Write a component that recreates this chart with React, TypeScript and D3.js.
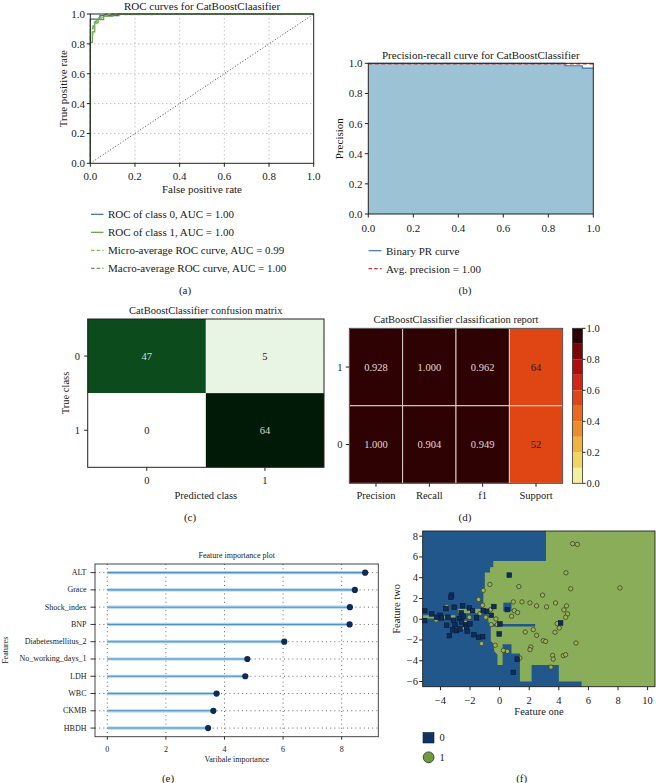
import React from "react";
import * as d3 from "d3";

const FONT = '"Liberation Serif", "Times New Roman", serif';

// ---------- (a) ROC curves ----------
const rocTicks = [0, 0.2, 0.4, 0.6, 0.8, 1.0];
const rocClass0: [number, number][] = [[0, 0], [0, 0.966], [0.043, 0.966], [0.043, 0.989], [0.128, 0.989], [0.128, 1], [1, 1]];
const rocClass1: [number, number][] = [[0, 0], [0, 0.81], [0.009, 0.81], [0.009, 0.88], [0.02, 0.88], [0.02, 0.94], [0.035, 0.94], [0.035, 0.962], [0.06, 0.962], [0.06, 0.985], [0.1, 0.985], [0.1, 1], [1, 1]];
const rocMicro: [number, number][] = [[0, 0], [0, 0.86], [0.012, 0.86], [0.012, 0.91], [0.025, 0.93], [0.03, 0.955], [0.05, 0.97], [0.06, 0.99], [0.09, 0.995], [0.28, 0.996], [0.28, 1], [1, 1]];
const rocMacro: [number, number][] = [[0, 0], [0, 0.9], [0.01, 0.9], [0.015, 0.94], [0.03, 0.96], [0.045, 0.985], [0.07, 1], [1, 1]];
const rocLegendLabels = [
  "ROC of class 0, AUC = 1.00",
  "ROC of class 1, AUC = 1.00",
  "Micro-average ROC curve, AUC = 0.99",
  "Macro-average ROC curve, AUC = 1.00",
];

// ---------- (b) Precision-recall ----------
const prTicks = [0, 0.2, 0.4, 0.6, 0.8, 1.0];
const prRecall = [0, 0.874, 0.874, 0.951, 0.951, 1.0];
const prPrecision = [1.0, 1.0, 0.984, 0.984, 0.968, 0.968];
const avgPrecision = 0.996;
const prLegendLabels = ["Binary PR curve", "Avg. precision = 1.00"];

// ---------- (c) Confusion matrix ----------
const cmClasses = ["0", "1"];
const cmValues = [
  [47, 5],
  [0, 64],
];

// ---------- (d) Classification report ----------
const reportClasses = ["1", "0"];
const reportMetrics = ["Precision", "Recall", "f1", "Support"];
const reportScores = [
  [0.928, 1.0, 0.962],
  [1.0, 0.904, 0.949],
];
const reportSupport = [64, 52];
const supportColorValue = 0.55;
const colorbarTicks = [0, 0.2, 0.4, 0.6, 0.8, 1.0];
const colorbarBins = ["#f3f0a2", "#f2d463", "#f0b33e", "#ee8c2b", "#e9691d", "#e04613", "#d62512", "#b00d0c", "#7c0606", "#2e0202"];

// ---------- (e) Feature importance ----------
const features = ["ALT", "Grace", "Shock_index", "BNP", "Diabetesmellitus_2", "No_working_days_1", "LDH", "WBC", "CKMB", "HBDH"];
const importance = [8.8, 8.45, 8.28, 8.27, 6.04, 4.78, 4.71, 3.73, 3.62, 3.44];
const importanceTicks = [0, 2, 4, 6, 8];

// ---------- (f) Decision regions ----------
const featXTicks = [-4, -2, 0, 2, 4, 6, 8, 10];
const featYTicks = [-6, -4, -2, 0, 2, 4, 6, 8];
const blueRegion: [number, number][] = [
  [-5.2, 8.5], [3.13, 8.5], [3.13, 5.6], [-0.43, 5.6], [-0.43, 5.0], [-0.65, 5.0], [-0.65, 4.5], [-1.0, 4.5],
  [-1.0, 3.0], [-1.1, 3.0], [-1.1, 1.0], [-0.8, 0.45], [-0.75, -0.3], [-0.6, -0.5], [-0.6, -2.1], [-0.45, -2.3],
  [-0.35, -3.1], [-0.15, -3.4], [-0.15, -4.4], [0.2, -4.4], [0.2, -2.4], [0.8, -2.4], [0.8, -3.3], [1.37, -3.3],
  [1.37, -6.0], [2.16, -6.0], [2.16, -4.4], [4.0, -4.4], [4.0, -6.0], [5.54, -6.0], [5.54, -6.5], [-5.2, -6.5],
];
const greenPatches: [number, number][][] = [
  [[-2.8, 1.0], [-1.1, 1.0], [-1.1, 0.58], [-2.8, 0.58]],
  [[-5.2, 0.38], [-3.0, 0.38], [-3.0, 0.08], [-5.2, 0.08]],
];
const bluePatches: [number, number][][] = [
  [[-0.6, -0.45], [2.4, -0.45], [2.4, -0.7], [-0.6, -0.7]],
  [[0.25, 1.6], [0.8, 1.6], [0.8, 0.75], [0.25, 0.75]],
];
const class1Points: [number, number][] = [
  [4.93, 7.28], [5.25, 7.21], [4.48, 4.47], [4.8, 2.93], [8.13, 3.02], [1.3, 3.15], [-0.66, 3.35], [-1.11, 2.77],
  [2.9, 2.32], [3.78, 1.57], [4.52, 1.29], [4.34, 0.9], [4.59, 0.51], [4.46, 0.19], [3.89, -0.42], [4.03, -0.84],
  [3.17, 1.19], [2.5, 1.29], [2.05, 1.57], [1.51, 1.67], [0.92, 1.67], [0.99, 0.83], [1.21, 0.64], [0.81, 0.29],
  [-0.25, 0.03], [-0.16, -0.52], [-0.57, -0.52], [-0.93, 0.19], [-1.33, 0.54], [-1.42, 1.9], [2.27, -1.0],
  [1.73, -1.23], [2.5, -1.55], [3.74, -1.26], [2.95, -2.06], [3.11, -2.13], [5.16, -2.29], [2.11, -2.68],
  [2.05, -2.93], [1.37, -3.74], [0.52, -3.09], [0.25, -3.0], [-0.3, -2.51], [3.58, -3.48], [3.62, -3.84],
  [4.3, -3.51], [4.46, -3.42], [3.47, -4.61], [-1.22, -2.35], [-3.58, 1.22], [-3.76, 0.19], [-4.3, -0.07],
  [-2.05, 0.19], [-2.32, -0.29], [-2.5, -0.84], [-0.61, 0.93], [-1.15, 1.35],
];
const class0Points: [number, number][] = [
  [0.65, 4.25], [-3.25, 2.32], [-3.29, 2.12], [-5.07, 0.83], [-4.6, 0.51], [-4.03, 0.38], [-3.63, 1.03],
  [-3.07, 1.16], [-2.5, 1.29], [-2.05, 1.09], [-1.83, 0.83], [-2.59, 0.61], [-2.46, 0.29], [-2.73, 0.06],
  [-3.13, -0.1], [-3.49, 0.19], [-3.92, 0.13], [-5.07, -0.13], [-3.58, -0.58], [-3.18, -1.03], [-2.91, -1.1],
  [-2.68, -0.94], [-2.32, -0.52], [-2.23, -0.77], [-2.01, -0.45], [-2.19, -1.16], [-1.74, -1.49], [-1.42, -1.74],
  [-1.15, -1.68], [-3.4, -1.58], [-0.39, 1.22], [-0.88, 0.77], [-0.57, 0.38], [0.02, -0.45], [0.52, 0.93],
  [-0.03, -1.42], [4.12, -0.36], [1.19, -3.84], [0.92, -5.12], [-1.11, 0.83], [-1.56, 0.13], [-3.02, -0.52],
  [-4.26, 0.19], [-2.57, -0.26],
];

const fmt1 = d3.format(".1f");
const fmtMinus = (v: number) => (v < 0 ? "\u2212" + Math.abs(v) : String(v));

function PanelA() {
  const x = d3.scaleLinear().domain([0, 1]).range([90.3, 313.7]);
  const y = d3.scaleLinear().domain([0, 1]).range([163.3, 14]);
  const ln = d3.line<[number, number]>().x((d) => x(d[0])).y((d) => y(d[1]));
  const series = [
    { d: rocClass0, color: "#3d69a0", dash: undefined as string | undefined },
    { d: rocClass1, color: "#5f9e3a", dash: undefined },
    { d: rocMicro, color: "#8dba57", dash: "4,2.5" },
    { d: rocMacro, color: "#5ea844", dash: "4,2.5" },
  ];
  return (
    <g>
      {rocTicks.slice(1, -1).map((t) => (
        <g key={t}>
          <line x1={x(t)} x2={x(t)} y1={y(0)} y2={y(1)} stroke="#a8a8a8" strokeDasharray="1,3" />
          <line x1={x(0)} x2={x(1)} y1={y(t)} y2={y(t)} stroke="#a8a8a8" strokeDasharray="1,3" />
        </g>
      ))}
      <path d={ln([[0, 0], [1, 1]]) || ""} stroke="#333" strokeWidth={0.9} strokeDasharray="1,2" fill="none" />
      {series.map((s, i) => (
        <path key={i} d={ln(s.d) || ""} stroke={s.color} strokeWidth={1.2} strokeDasharray={s.dash} fill="none" />
      ))}
      <rect x={x(0)} y={y(1)} width={x(1) - x(0)} height={y(0) - y(1)} fill="none" stroke="#222" strokeWidth={1} />
      {rocTicks.map((t) => (
        <g key={t} fontSize={11}>
          <line x1={x(t)} x2={x(t)} y1={y(0)} y2={y(0) + 3.5} stroke="#222" />
          <text x={x(t)} y={175.6} textAnchor="middle" dominantBaseline="central">{fmt1(t)}</text>
          <line x1={x(0) - 3.5} x2={x(0)} y1={y(t)} y2={y(t)} stroke="#222" />
          <text x={85} y={y(t)} textAnchor="end" dominantBaseline="central">{fmt1(t)}</text>
        </g>
      ))}
      <text x={202} y={5.5} fontSize={11} textAnchor="middle" dominantBaseline="central">ROC curves for CatBoostClaasifier</text>
      <text x={202} y={188.5} fontSize={11} textAnchor="middle" dominantBaseline="central">False positive rate</text>
      <text transform={`translate(63,88.7) rotate(-90)`} fontSize={11} textAnchor="middle" dominantBaseline="central">True positive rate</text>
      {rocLegendLabels.map((lab, i) => (
        <g key={lab}>
          <line x1={91} x2={103.5} y1={214.3 + i * 18} y2={214.3 + i * 18} stroke={series[i].color} strokeWidth={1.2} strokeDasharray={series[i].dash ? "3.5,2.2" : undefined} />
          <text x={108} y={214.3 + i * 18} fontSize={11} dominantBaseline="central">{lab}</text>
        </g>
      ))}
      <text x={185} y={290} fontSize={11} textAnchor="middle" dominantBaseline="central">(a)</text>
    </g>
  );
}

function PanelB() {
  const x = d3.scaleLinear().domain([0, 1]).range([368.3, 593.3]);
  const y = d3.scaleLinear().domain([0, 1]).range([214, 63.3]);
  const pts: [number, number][] = prRecall.map((r, i) => [r, prPrecision[i]]);
  const area = d3.area<[number, number]>().x((d) => x(d[0])).y0(y(0)).y1((d) => y(d[1]));
  const ln = d3.line<[number, number]>().x((d) => x(d[0])).y((d) => y(d[1]));
  return (
    <g>
      <path d={area(pts) || ""} fill="#9cc3d5" />
      <path d={ln(pts) || ""} stroke="#3a76b0" strokeWidth={1.1} fill="none" />
      <line x1={x(0)} x2={x(1)} y1={y(avgPrecision)} y2={y(avgPrecision)} stroke="#d23a3a" strokeWidth={1.2} strokeDasharray="4,2.5" />
      <rect x={x(0)} y={y(1)} width={x(1) - x(0)} height={y(0) - y(1)} fill="none" stroke="#222" strokeWidth={1} />
      {prTicks.map((t) => (
        <g key={t} fontSize={11}>
          <line x1={x(t)} x2={x(t)} y1={y(0)} y2={y(0) + 3.5} stroke="#222" />
          <text x={x(t)} y={228} textAnchor="middle" dominantBaseline="central">{fmt1(t)}</text>
          <line x1={x(0) - 3.5} x2={x(0)} y1={y(t)} y2={y(t)} stroke="#222" />
          <text x={362.5} y={y(t)} textAnchor="end" dominantBaseline="central">{fmt1(t)}</text>
        </g>
      ))}
      <text x={480.8} y={55} fontSize={11} textAnchor="middle" dominantBaseline="central">Precision-recall curve for CatBoostClassifier</text>
      <text transform={`translate(339,138.7) rotate(-90)`} fontSize={11} textAnchor="middle" dominantBaseline="central">Precision</text>
      {prLegendLabels.map((lab, i) => (
        <g key={lab}>
          <line x1={368.5} x2={381.5} y1={250.7 + i * 18} y2={250.7 + i * 18} stroke={i === 0 ? "#3a76b0" : "#d23a3a"} strokeWidth={1.2} strokeDasharray={i === 1 ? "3.5,2.2" : undefined} />
          <text x={386} y={250.7 + i * 18} fontSize={11} dominantBaseline="central">{lab}</text>
        </g>
      ))}
      <text x={465} y={290} fontSize={11} textAnchor="middle" dominantBaseline="central">(b)</text>
    </g>
  );
}

function PanelC() {
  const x = d3.scaleBand<string>().domain(cmClasses).range([87.7, 324]);
  const y = d3.scaleBand<string>().domain(cmClasses).range([319, 467.3]);
  const color = d3.scaleLinear<string>().domain([0, 5, 47, 64]).range(["#ffffff", "#e9f5e4", "#0c4b1c", "#001a08"]);
  return (
    <g>
      {cmValues.map((row, i) =>
        row.map((v, j) => (
          <g key={`${i}-${j}`}>
            <rect x={x(cmClasses[j])} y={y(cmClasses[i])} width={x.bandwidth()} height={y.bandwidth()} fill={color(v)} />
            <text x={(x(cmClasses[j]) || 0) + x.bandwidth() / 2} y={(y(cmClasses[i]) || 0) + y.bandwidth() / 2} fontSize={10.5} textAnchor="middle" dominantBaseline="central" fill={v > 32 ? "#d8d8d8" : "#1a1a1a"}>{v}</text>
          </g>
        ))
      )}
      <rect x={87.7} y={319} width={324 - 87.7} height={467.3 - 319} fill="none" stroke="#222" strokeWidth={1} />
      {cmClasses.map((c) => (
        <g key={c} fontSize={10.5}>
          <line x1={(x(c) || 0) + x.bandwidth() / 2} x2={(x(c) || 0) + x.bandwidth() / 2} y1={467.3} y2={470.8} stroke="#222" />
          <text x={(x(c) || 0) + x.bandwidth() / 2} y={480} textAnchor="middle" dominantBaseline="central">{c}</text>
          <line x1={84.2} x2={87.7} y1={(y(c) || 0) + y.bandwidth() / 2} y2={(y(c) || 0) + y.bandwidth() / 2} stroke="#222" />
          <text x={80} y={(y(c) || 0) + y.bandwidth() / 2} textAnchor="end" dominantBaseline="central">{c}</text>
        </g>
      ))}
      <text x={205.8} y={310} fontSize={10.5} textAnchor="middle" dominantBaseline="central">CatBoostClassifier confusion matrix</text>
      <text x={205.8} y={495.7} fontSize={10.5} textAnchor="middle" dominantBaseline="central">Predicted class</text>
      <text transform={`translate(65,393) rotate(-90)`} fontSize={10.5} textAnchor="middle" dominantBaseline="central">True class</text>
      <text x={190} y={517} fontSize={11} textAnchor="middle" dominantBaseline="central">(c)</text>
    </g>
  );
}

function PanelD() {
  const x = d3.scaleBand<string>().domain(reportMetrics).range([349.3, 562.7]);
  const y = d3.scaleBand<string>().domain(reportClasses).range([328.3, 483.3]);
  const cb = d3.scaleLinear().domain([0, 1]).range([483.3, 328.3]);
  const binColor = d3.scaleQuantize<string>().domain([0, 1]).range(colorbarBins);
  const fmt3 = d3.format(".3f");
  return (
    <g>
      {reportClasses.map((cls, i) =>
        reportMetrics.map((m, j) => {
          const isSupport = j === 3;
          const v = isSupport ? supportColorValue : reportScores[i][j];
          const label = isSupport ? String(reportSupport[i]) : fmt3(reportScores[i][j]);
          return (
            <g key={`${cls}-${m}`}>
              <rect x={x(m)} y={y(cls)} width={x.bandwidth()} height={y.bandwidth()} fill={binColor(Math.min(v, 0.9999))} stroke="#e6dada" strokeWidth={0.9} />
              <text x={(x(m) || 0) + x.bandwidth() / 2} y={(y(cls) || 0) + y.bandwidth() / 2} fontSize={10.5} textAnchor="middle" dominantBaseline="central" fill={isSupport ? "#1a1a1a" : "#e6d6d6"}>{label}</text>
            </g>
          );
        })
      )}
      <rect x={349.3} y={328.3} width={562.7 - 349.3} height={483.3 - 328.3} fill="none" stroke="#333" strokeWidth={0.8} />
      {reportMetrics.map((m) => (
        <g key={m} fontSize={10.5}>
          <line x1={(x(m) || 0) + x.bandwidth() / 2} x2={(x(m) || 0) + x.bandwidth() / 2} y1={483.3} y2={486.8} stroke="#222" />
          <text x={(x(m) || 0) + x.bandwidth() / 2} y={495.7} textAnchor="middle" dominantBaseline="central">{m}</text>
        </g>
      ))}
      {reportClasses.map((c) => (
        <g key={c} fontSize={10.5}>
          <line x1={345.8} x2={349.3} y1={(y(c) || 0) + y.bandwidth() / 2} y2={(y(c) || 0) + y.bandwidth() / 2} stroke="#222" />
          <text x={342.5} y={(y(c) || 0) + y.bandwidth() / 2} textAnchor="end" dominantBaseline="central">{c}</text>
        </g>
      ))}
      {colorbarBins.map((c, i) => (
        <rect key={c} x={572.5} width={10} y={cb((i + 1) / colorbarBins.length)} height={cb(i / colorbarBins.length) - cb((i + 1) / colorbarBins.length)} fill={c} />
      ))}
      <rect x={572.5} y={328.3} width={10} height={155} fill="none" stroke="#333" strokeWidth={0.8} />
      {colorbarTicks.map((t) => (
        <g key={t} fontSize={10.5}>
          <line x1={582.5} x2={585.5} y1={cb(t)} y2={cb(t)} stroke="#222" />
          <text x={586.5} y={cb(t)} dominantBaseline="central">{fmt1(t)}</text>
        </g>
      ))}
      <text x={456} y={319.3} fontSize={10.5} textAnchor="middle" dominantBaseline="central">CatBoostClassifier classification report</text>
      <text x={465} y={516.7} fontSize={11} textAnchor="middle" dominantBaseline="central">(d)</text>
    </g>
  );
}

function PanelE() {
  const x = d3.scaleLinear().domain([-0.42, 9.25]).range([95, 378.3]);
  const y = d3.scaleBand<string>().domain(features).range([564, 736.7]);
  const cy = (f: string) => (y(f) || 0) + y.bandwidth() / 2;
  return (
    <g>
      <rect x={95} y={564} width={378.3 - 95} height={736.7 - 564} fill="#fff" />
      {importanceTicks.map((t) => (
        <line key={t} x1={x(t)} x2={x(t)} y1={564} y2={736.7} stroke="#444" strokeWidth={0.8} strokeDasharray="1,3.2" />
      ))}
      {features.map((f) => (
        <line key={f} x1={95} x2={378.3} y1={cy(f)} y2={cy(f)} stroke="#444" strokeWidth={0.8} strokeDasharray="1,3.2" />
      ))}
      {features.map((f, i) => (
        <g key={f}>
          <line x1={x(0)} x2={x(importance[i])} y1={cy(f)} y2={cy(f)} stroke="#acd2ea" strokeWidth={3.2} />
          <line x1={x(0)} x2={x(importance[i])} y1={cy(f)} y2={cy(f)} stroke="#4a93c9" strokeWidth={1.1} />
          <circle cx={x(importance[i])} cy={cy(f)} r={3.1} fill="#0d2b57" />
        </g>
      ))}
      <rect x={95} y={564} width={378.3 - 95} height={736.7 - 564} fill="none" stroke="#333" strokeWidth={0.9} />
      {importanceTicks.map((t) => (
        <g key={t} fontSize={8}>
          <line x1={x(t)} x2={x(t)} y1={736.7} y2={739.7} stroke="#333" />
          <text x={x(t)} y={749.3} textAnchor="middle" dominantBaseline="central">{t}</text>
        </g>
      ))}
      {features.map((f) => (
        <g key={f} fontSize={8}>
          <line x1={90.5} x2={95} y1={cy(f)} y2={cy(f)} stroke="#333" />
          <text x={86.5} y={cy(f)} textAnchor="end" dominantBaseline="central" fill="#1a1a1a">{f}</text>
        </g>
      ))}
      <text x={236.7} y={555.7} fontSize={8} textAnchor="middle" dominantBaseline="central">Feature importance plot</text>
      <text x={236.7} y={759} fontSize={8} textAnchor="middle" dominantBaseline="central">Varibale importance</text>
      <text transform={`translate(5.5,650.3) rotate(-90)`} fontSize={8} textAnchor="middle" dominantBaseline="central">Features</text>
      <text x={168} y={777.5} fontSize={11} textAnchor="middle" dominantBaseline="central">(e)</text>
    </g>
  );
}

function PanelF() {
  const x = d3.scaleLinear().domain([-5.2, 10.5]).range([422.7, 655]);
  const y = d3.scaleLinear().domain([-6.5, 8.5]).range([686.7, 531]);
  const poly = d3.line<[number, number]>().x((d) => x(d[0])).y((d) => y(d[1]));
  const blue = "#21578a";
  const green = "#8aad5a";
  return (
    <g>
      <rect x={x(-5.2)} y={y(8.5)} width={x(10.5) - x(-5.2)} height={y(-6.5) - y(8.5)} fill={green} />
      <path d={(poly(blueRegion) || "") + "Z"} fill={blue} />
      {greenPatches.map((p, i) => (
        <path key={`g${i}`} d={(poly(p) || "") + "Z"} fill={green} />
      ))}
      {bluePatches.map((p, i) => (
        <path key={`b${i}`} d={(poly(p) || "") + "Z"} fill={blue} />
      ))}
      {class1Points.map((p, i) => (
        <circle key={`c${i}`} cx={x(p[0])} cy={y(p[1])} r={2.2} fill="#9ab34e" stroke="#3b4230" strokeWidth={0.8} />
      ))}
      {class0Points.map((p, i) => (
        <rect key={`s${i}`} x={x(p[0]) - 2.3} y={y(p[1]) - 2.3} width={4.6} height={4.6} fill="#0e2d5c" stroke="#081a33" strokeWidth={0.6} />
      ))}
      <rect x={x(-5.2)} y={y(8.5)} width={x(10.5) - x(-5.2)} height={y(-6.5) - y(8.5)} fill="none" stroke="#222" strokeWidth={0.9} />
      {featXTicks.map((t) => (
        <g key={t} fontSize={10.5}>
          <line x1={x(t)} x2={x(t)} y1={686.7} y2={690.2} stroke="#222" />
          <text x={x(t)} y={700} textAnchor="middle" dominantBaseline="central">{fmtMinus(t)}</text>
        </g>
      ))}
      {featYTicks.map((t) => (
        <g key={t} fontSize={10.5}>
          <line x1={419.2} x2={422.7} y1={y(t)} y2={y(t)} stroke="#222" />
          <text x={418} y={y(t)} textAnchor="end" dominantBaseline="central">{fmtMinus(t)}</text>
        </g>
      ))}
      <text x={539} y={711} fontSize={10.5} textAnchor="middle" dominantBaseline="central">Feature one</text>
      <text transform={`translate(396.7,608.8) rotate(-90)`} fontSize={10.5} textAnchor="middle" dominantBaseline="central">Feature two</text>
      <rect x={423} y={732.5} width={11} height={10.5} fill="#0f3462" stroke="#0a1e3a" strokeWidth={0.6} />
      <text x={439.5} y={737.7} fontSize={10.5} dominantBaseline="central">0</text>
      <circle cx={428.6} cy={757.3} r={5.4} fill="#6e9b3e" stroke="#1f2a17" strokeWidth={0.8} />
      <text x={439.5} y={757.3} fontSize={10.5} dominantBaseline="central">1</text>
      <text x={521.7} y={778} fontSize={11} textAnchor="middle" dominantBaseline="central">(f)</text>
    </g>
  );
}

export default function App() {
  return (
    <svg width={656} height={783} style={{ position: "absolute", left: 0, top: 0, background: "#fff" }} fontFamily={FONT} fill="#1a1a1a">
      <rect x={0} y={0} width={656} height={783} fill="#fff" />
      <PanelA />
      <PanelB />
      <PanelC />
      <PanelD />
      <PanelE />
      <PanelF />
    </svg>
  );
}
